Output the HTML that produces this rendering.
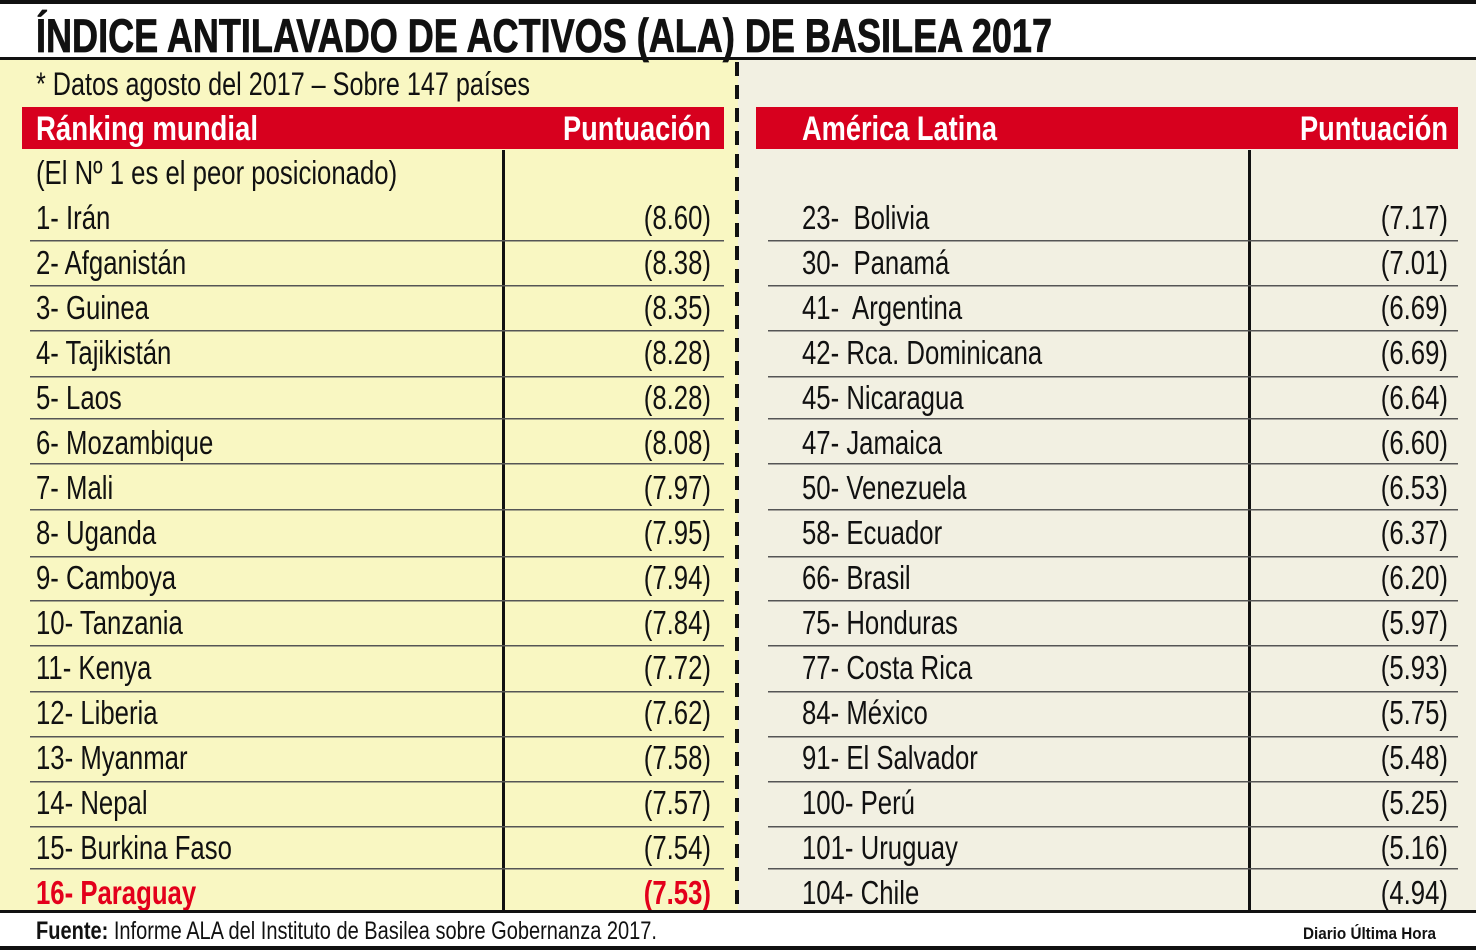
<!DOCTYPE html>
<html><head><meta charset="utf-8"><style>
html,body{margin:0;padding:0;background:#fff;}
svg{display:block;}
</style></head><body>
<svg width="1476" height="950" viewBox="0 0 1476 950" xmlns="http://www.w3.org/2000/svg" font-family="Liberation Sans, sans-serif">
<rect width="1476" height="950" fill="#fff"/>
<rect x="0" y="0" width="1476" height="4" fill="#111"/>
<rect x="0" y="59" width="738" height="852" fill="#f9f7c2"/>
<rect x="738" y="59" width="738" height="852" fill="#f2f0e2"/>
<rect x="0" y="57" width="1476" height="3" fill="#111"/>
<line x1="737" y1="62" x2="737" y2="910" stroke="#111" stroke-width="4" stroke-dasharray="14,9"/>
<text x="36" y="52" font-size="47" font-weight="bold" textLength="1016" lengthAdjust="spacingAndGlyphs" fill="#111" stroke="#111" stroke-width="0.8">ÍNDICE ANTILAVADO  DE ACTIVOS (ALA) DE BASILEA 2017</text>
<text x="36" y="95" font-size="32" textLength="494" lengthAdjust="spacingAndGlyphs" fill="#111">* Datos agosto del 2017 – Sobre 147 países</text>
<rect x="22" y="107" width="702" height="42" fill="#d7001e"/>
<rect x="756" y="107" width="702" height="42" fill="#d7001e"/>
<text x="36" y="140" font-size="34" font-weight="bold" fill="#fff" textLength="222" lengthAdjust="spacingAndGlyphs">Ránking mundial</text>
<text x="711" y="140" font-size="34" font-weight="bold" fill="#fff" text-anchor="end" textLength="148" lengthAdjust="spacingAndGlyphs">Puntuación</text>
<text x="802" y="140" font-size="34" font-weight="bold" fill="#fff" textLength="195" lengthAdjust="spacingAndGlyphs">América Latina</text>
<text x="1448" y="140" font-size="34" font-weight="bold" fill="#fff" text-anchor="end" textLength="148" lengthAdjust="spacingAndGlyphs">Puntuación</text>
<rect x="502" y="150" width="3" height="760" fill="#111"/>
<rect x="1248" y="150" width="3" height="760" fill="#111"/>
<g fill="#555">
<rect x="30" y="240" width="694" height="1.5"/><rect x="768" y="240" width="690" height="1.5"/>
<rect x="30" y="285" width="694" height="1.5"/><rect x="768" y="285" width="690" height="1.5"/>
<rect x="30" y="330" width="694" height="1.5"/><rect x="768" y="330" width="690" height="1.5"/>
<rect x="30" y="376" width="694" height="1.5"/><rect x="768" y="376" width="690" height="1.5"/>
<rect x="30" y="418" width="694" height="1.5"/><rect x="768" y="418" width="690" height="1.5"/>
<rect x="30" y="463" width="694" height="1.5"/><rect x="768" y="463" width="690" height="1.5"/>
<rect x="30" y="509" width="694" height="1.5"/><rect x="768" y="509" width="690" height="1.5"/>
<rect x="30" y="556" width="694" height="1.5"/><rect x="768" y="556" width="690" height="1.5"/>
<rect x="30" y="600" width="694" height="1.5"/><rect x="768" y="600" width="690" height="1.5"/>
<rect x="30" y="645" width="694" height="1.5"/><rect x="768" y="645" width="690" height="1.5"/>
<rect x="30" y="691" width="694" height="1.5"/><rect x="768" y="691" width="690" height="1.5"/>
<rect x="30" y="736" width="694" height="1.5"/><rect x="768" y="736" width="690" height="1.5"/>
<rect x="30" y="781" width="694" height="1.5"/><rect x="768" y="781" width="690" height="1.5"/>
<rect x="30" y="826" width="694" height="1.5"/><rect x="768" y="826" width="690" height="1.5"/>
<rect x="30" y="868" width="694" height="1.5"/><rect x="768" y="868" width="690" height="1.5"/>
</g>
<g transform="scale(0.78,1)" font-size="33" fill="#111">
<text x="46.15" y="184">(El Nº 1 es el peor posicionado)</text>
<g>
<text x="46.15" y="229">1- Irán</text>
<text x="46.15" y="274">2- Afganistán</text>
<text x="46.15" y="319">3- Guinea</text>
<text x="46.15" y="364">4- Tajikistán</text>
<text x="46.15" y="409">5- Laos</text>
<text x="46.15" y="454">6- Mozambique</text>
<text x="46.15" y="499">7- Mali</text>
<text x="46.15" y="544">8- Uganda</text>
<text x="46.15" y="589">9- Camboya</text>
<text x="46.15" y="634">10- Tanzania</text>
<text x="46.15" y="679">11- Kenya</text>
<text x="46.15" y="724">12- Liberia</text>
<text x="46.15" y="769">13- Myanmar</text>
<text x="46.15" y="814">14- Nepal</text>
<text x="46.15" y="859">15- Burkina Faso</text>
<text x="46.15" y="904" fill="#e3001b" font-weight="bold">16- Paraguay</text>
</g>
<g text-anchor="end">
<text x="911.5" y="229">(8.60)</text>
<text x="911.5" y="274">(8.38)</text>
<text x="911.5" y="319">(8.35)</text>
<text x="911.5" y="364">(8.28)</text>
<text x="911.5" y="409">(8.28)</text>
<text x="911.5" y="454">(8.08)</text>
<text x="911.5" y="499">(7.97)</text>
<text x="911.5" y="544">(7.95)</text>
<text x="911.5" y="589">(7.94)</text>
<text x="911.5" y="634">(7.84)</text>
<text x="911.5" y="679">(7.72)</text>
<text x="911.5" y="724">(7.62)</text>
<text x="911.5" y="769">(7.58)</text>
<text x="911.5" y="814">(7.57)</text>
<text x="911.5" y="859">(7.54)</text>
<text x="911.5" y="904" fill="#e3001b" font-weight="bold">(7.53)</text>
</g>
<g>
<text x="1028.2" y="229">23-&#160; Bolivia</text>
<text x="1028.2" y="274">30-&#160; Panamá</text>
<text x="1028.2" y="319">41-&#160; Argentina</text>
<text x="1028.2" y="364">42- Rca. Dominicana</text>
<text x="1028.2" y="409">45- Nicaragua</text>
<text x="1028.2" y="454">47- Jamaica</text>
<text x="1028.2" y="499">50- Venezuela</text>
<text x="1028.2" y="544">58- Ecuador</text>
<text x="1028.2" y="589">66- Brasil</text>
<text x="1028.2" y="634">75- Honduras</text>
<text x="1028.2" y="679">77- Costa Rica</text>
<text x="1028.2" y="724">84- México</text>
<text x="1028.2" y="769">91- El Salvador</text>
<text x="1028.2" y="814">100- Perú</text>
<text x="1028.2" y="859">101- Uruguay</text>
<text x="1028.2" y="904">104- Chile</text>
</g>
<g text-anchor="end">
<text x="1856.4" y="229">(7.17)</text>
<text x="1856.4" y="274">(7.01)</text>
<text x="1856.4" y="319">(6.69)</text>
<text x="1856.4" y="364">(6.69)</text>
<text x="1856.4" y="409">(6.64)</text>
<text x="1856.4" y="454">(6.60)</text>
<text x="1856.4" y="499">(6.53)</text>
<text x="1856.4" y="544">(6.37)</text>
<text x="1856.4" y="589">(6.20)</text>
<text x="1856.4" y="634">(5.97)</text>
<text x="1856.4" y="679">(5.93)</text>
<text x="1856.4" y="724">(5.75)</text>
<text x="1856.4" y="769">(5.48)</text>
<text x="1856.4" y="814">(5.25)</text>
<text x="1856.4" y="859">(5.16)</text>
<text x="1856.4" y="904">(4.94)</text>
</g>
</g>
<rect x="0" y="910" width="1476" height="3" fill="#111"/>
<text x="36" y="939" font-size="25" fill="#111" textLength="621" lengthAdjust="spacingAndGlyphs"><tspan font-weight="bold">Fuente:</tspan> Informe ALA del Instituto de Basilea sobre Gobernanza 2017.</text>
<text x="1436" y="939" font-size="17" font-weight="bold" fill="#111" text-anchor="end" textLength="133" lengthAdjust="spacingAndGlyphs">Diario Última Hora</text>
<rect x="0" y="946" width="1476" height="4" fill="#111"/>
</svg>
</body></html>
